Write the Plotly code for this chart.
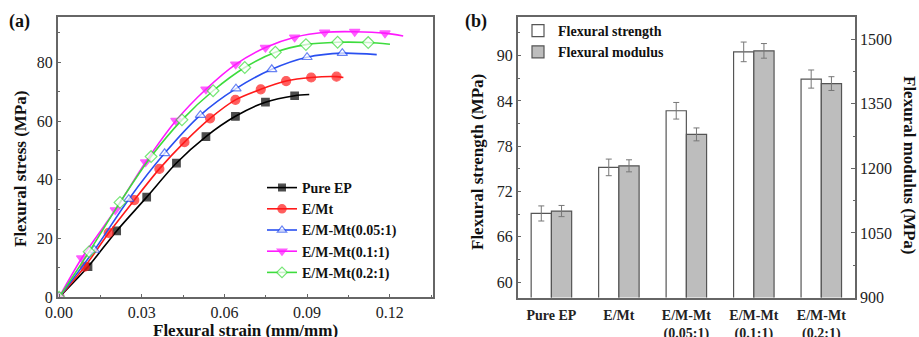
import plotly.graph_objects as go

# ---------- Panel (a): stress-strain curves ----------
pure_x = [0.0, 0.0105, 0.0209, 0.0318, 0.0426, 0.0533, 0.0640, 0.0749, 0.0855, 0.0908]
pure_y = [0.0, 10.4, 22.6, 34.1, 45.7, 54.7, 61.6, 66.4, 68.6, 69.0]

emt_x = [0.0, 0.0093, 0.0180, 0.0273, 0.0364, 0.0455, 0.0548, 0.0640, 0.0732, 0.0824, 0.0915, 0.1007, 0.1032]
emt_y = [0.0, 10.4, 21.9, 33.1, 43.7, 52.8, 60.9, 67.2, 70.8, 73.6, 74.8, 75.1, 74.8]

m005_x = [0.0, 0.0128, 0.0253, 0.0383, 0.0513, 0.0642, 0.0772, 0.0900, 0.1028, 0.1153]
m005_y = [0.0, 16.1, 33.4, 49.0, 62.0, 71.0, 77.6, 81.7, 83.1, 82.6]

m01_x = [0.0, 0.0082, 0.0204, 0.0314, 0.0424, 0.0533, 0.0641, 0.0749, 0.0855, 0.0964, 0.1073, 0.1183, 0.1249]
m01_y = [0.0, 13.3, 29.7, 46.0, 60.1, 70.8, 79.3, 85.0, 88.5, 90.2, 90.4, 89.9, 88.9]

m02_x = [0.0, 0.0109, 0.0221, 0.0334, 0.0446, 0.0559, 0.0674, 0.0785, 0.0896, 0.1011, 0.1122, 0.1201]
m02_y = [0.0, 15.5, 32.3, 47.9, 60.4, 70.3, 78.2, 83.4, 86.0, 86.8, 86.7, 86.1]

curve_names = ["Pure EP", "E/Mt", "E/M-Mt(0.05:1)", "E/M-Mt(0.1:1)", "E/M-Mt(0.2:1)"]

# ---------- Panel (b): bars ----------
categories = ["Pure EP", "E/Mt", "E/M-Mt<br>(0.05:1)", "E/M-Mt<br>(0.1:1)", "E/M-Mt<br>(0.2:1)"]
strength = [69.1, 75.2, 82.7, 90.5, 86.9]
strength_err = [1.0, 1.1, 1.1, 1.3, 1.2]
modulus = [1101, 1206, 1279, 1473, 1397]
modulus_err = [13, 14, 15, 17, 16]

SERIF = "Liberation Serif"
AX = "#666666"

fig = go.Figure()

styles = [
    dict(color="#000000", symbol="square", fill="#000000", size=7.5),
    dict(color="#ff1a1a", symbol="circle", fill="#ff1a1a", size=9),
    dict(color="#2a50f0", symbol="triangle-up", fill="#ffffff", size=9),
    dict(color="#ff1aff", symbol="triangle-down", fill="#ff1aff", size=9),
    dict(color="#3ddc3d", symbol="diamond", fill="#ffffff", size=9),
]
series = [(pure_x, pure_y), (emt_x, emt_y), (m005_x, m005_y), (m01_x, m01_y), (m02_x, m02_y)]

for (xs, ys), name, st in zip(series, curve_names, styles):
    sizes = [st["size"]] * (len(xs) - 1) + [0]
    fig.add_trace(go.Scatter(
        x=xs, y=ys, name=name, mode="lines+markers",
        line=dict(color=st["color"], width=1.6, shape="spline", smoothing=0.8),
        marker=dict(symbol=st["symbol"], size=sizes, color=st["fill"],
                    line=dict(color=st["color"], width=1.2)),
        xaxis="x", yaxis="y", legend="legend",
    ))

fig.add_trace(go.Bar(
    x=categories, y=strength, name="Flexural strength",
    width=0.3, offset=-0.3,
    marker=dict(color="#ffffff", line=dict(color="#555555", width=1.2)),
    error_y=dict(type="data", array=strength_err, color="#777777", thickness=1, width=3),
    xaxis="x2", yaxis="y2", legend="legend2",
))
fig.add_trace(go.Bar(
    x=categories, y=modulus, name="Flexural modulus",
    width=0.3, offset=0.0,
    marker=dict(color="#bdbdbd", line=dict(color="#555555", width=1.2)),
    error_y=dict(type="data", array=modulus_err, color="#777777", thickness=1, width=3),
    xaxis="x2", yaxis="y3", legend="legend2",
))

tickfont = dict(family=SERIF, size=16, color="#222222")
common = dict(showline=True, linecolor=AX, linewidth=1.5, mirror=True, ticks="inside",
              ticklen=4, tickcolor=AX, showgrid=False, zeroline=False, tickfont=tickfont,
              automargin=False)

fig.update_layout(
    width=919, height=337, autosize=False,
    margin=dict(l=0, r=0, t=0, b=0, autoexpand=False),
    paper_bgcolor="white", plot_bgcolor="white",
    barmode="overlay",
    xaxis=dict(domain=[0.0628, 0.4708], anchor="y", range=[-0.0005, 0.1356],
               tickvals=[0, 0.03, 0.06, 0.09, 0.12],
               ticktext=["0.00", "0.03", "0.06", "0.09", "0.12"],
               minor=dict(ticks="inside", ticklen=2.5, tickcolor=AX, dtick=0.015, tick0=0), **common),
    yaxis=dict(domain=[0.1178, 0.9487], anchor="x", range=[0, 95.3], dtick=20,
               minor=dict(ticks="inside", ticklen=2.5, tickcolor=AX, dtick=10, tick0=0), **common),
    xaxis2=dict(domain=[0.5633, 0.9304], anchor="y2", range=[-0.5, 4.5], type="category",
                showline=True, linecolor=AX, linewidth=1.5, mirror=True, ticks="",
                showgrid=False, zeroline=False, ticklabelstandoff=4, automargin=False,
                tickfont=dict(family=SERIF, size=14, color="#222222", weight="bold")),
    yaxis2=dict(domain=[0.117, 0.9487], anchor="x2", range=[57.96, 95.08],
                tickvals=[60, 66, 72, 78, 84, 90],
                minor=dict(ticks="inside", ticklen=2.5, tickcolor=AX, dtick=3, tick0=60), **common),
    yaxis3=dict(overlaying="y2", side="right", anchor="x2", range=[900, 1551],
                tickvals=[900, 1050, 1200, 1350, 1500], automargin=False,
                minor=dict(ticks="inside", ticklen=2.5, tickcolor=AX, dtick=75, tick0=900),
                showline=True, linecolor=AX, linewidth=1.5, ticks="inside", ticklen=4,
                tickcolor=AX, showgrid=False, zeroline=False, tickfont=tickfont),
    legend=dict(x=262 / 919, y=(337 - 172) / 337, xanchor="left", yanchor="top",
                bgcolor="rgba(0,0,0,0)", borderwidth=0, tracegroupgap=0,
                font=dict(family=SERIF, size=14, color="#111111", weight="bold")),
    legend2=dict(x=518 / 919, y=(337 - 15) / 337, xanchor="left", yanchor="top",
                 bgcolor="rgba(0,0,0,0)", borderwidth=0,
                 font=dict(family=SERIF, size=14, color="#111111", weight="bold")),
    showlegend=True,
)

title_font = dict(family=SERIF, size=17, color="#111111", weight="bold")
ann = [
    dict(text="Flexural stress (MPa)", x=20 / 919, y=(337 - 169) / 337, textangle=-90),
    dict(text="Flexural strain (mm/mm)", x=245.5 / 919, y=(337 - 330) / 337, textangle=0),
    dict(text="Flexural strength (MPa)", x=478 / 919, y=(337 - 162) / 337, textangle=-90),
    dict(text="Flexural modulus (MPa)", x=910 / 919, y=(337 - 165) / 337, textangle=90),
]
for a in ann:
    fig.add_annotation(xref="paper", yref="paper", xanchor="center", yanchor="middle",
                       showarrow=False, font=title_font, **a)
for t, x in [("(a)", 19), ("(b)", 476)]:
    fig.add_annotation(text=t, xref="paper", yref="paper", x=x / 919, y=(337 - 21) / 337,
                       xanchor="center", yanchor="middle", showarrow=False,
                       font=dict(family=SERIF, size=18, color="#111111", weight="bold"))

fig.write_html("out.html", config={"displayModeBar": False},
               post_script="document.body.style.margin='0';document.body.style.overflow='hidden';")
